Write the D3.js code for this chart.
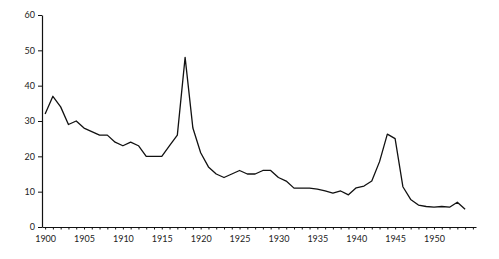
<!DOCTYPE html>
<html>
<head>
<meta charset="utf-8">
<script src="https://cdn.jsdelivr.net/npm/d3@7"></script>
<style>
  body { margin: 0; background: #fff; }
  svg text { font-family: Lato, "DejaVu Sans", sans-serif; fill: #222; }
</style>
</head>
<body>
<div id="chart"></div>
<script>
const WIDTH = 499
const HEIGHT = 259

// years and values
const years = d3.range(1900, 1955)
const values = [32, 37, 34, 29, 30, 28, 27, 26, 26, 24,
                23, 24, 23, 20, 20, 20, 23, 26, 48, 28,
                21, 17, 15, 14, 15, 16, 15, 15, 16, 16,
                14, 13, 11, 11, 11, 10.7, 10.2, 9.6, 10.2, 9.1,
                11.1, 11.6, 13, 18.5, 26.3, 25, 11.4, 7.8, 6.2, 5.8,
                5.6, 5.8, 5.6, 7, 5]
const yTicks = [0, 10, 20, 30, 40, 50, 60]
const xLabels = [1900, 1905, 1910, 1915, 1920, 1925, 1930, 1935, 1940, 1945, 1950]

const svg = d3.select("#chart")
    .append("svg")
    .attr("width", WIDTH)
    .attr("height", HEIGHT)

// axis runs a bit before 1900 and after the last year
const x = d3.scaleLinear()
    .domain([1899.6, 1955.4])
    .range([42, 476])

const y = d3.scaleLinear()
    .domain([0, 60])
    .range([227, 15])

// y axis
const yAxis = svg.append("g")
    .attr("transform", "translate(42,0)")
    .call(d3.axisLeft(y).tickValues(yTicks).tickSize(4).tickSizeOuter(0).tickPadding(3))
yAxis.select(".domain").attr("stroke", "#111").attr("stroke-width", 1.2)
yAxis.selectAll(".tick line").attr("stroke", "#111")
yAxis.selectAll("text").attr("font-size", 9).style("fill", "#222")

// x axis: one tick per year, labels every 5
const xAxis = svg.append("g")
    .attr("transform", "translate(0,227)")
    .call(d3.axisBottom(x)
        .tickValues(d3.range(1900, 1956))
        .tickSize(2.5)
        .tickSizeOuter(0)
        .tickPadding(6)
        .tickFormat(d => xLabels.includes(d) ? d : ""))
xAxis.select(".domain").attr("stroke", "#111").attr("stroke-width", 1.2)
xAxis.selectAll(".tick line").attr("stroke", "#111")
xAxis.selectAll("text").attr("font-size", 9).style("fill", "#222")

// the line
const line = d3.line()
    .x((d, i) => x(years[i]))
    .y(d => y(d))

svg.append("path")
    .datum(values)
    .attr("fill", "none")
    .attr("stroke", "#111")
    .attr("stroke-width", 1.3)
    .attr("stroke-linejoin", "round")
    .attr("d", line)
</script>
</body>
</html>
